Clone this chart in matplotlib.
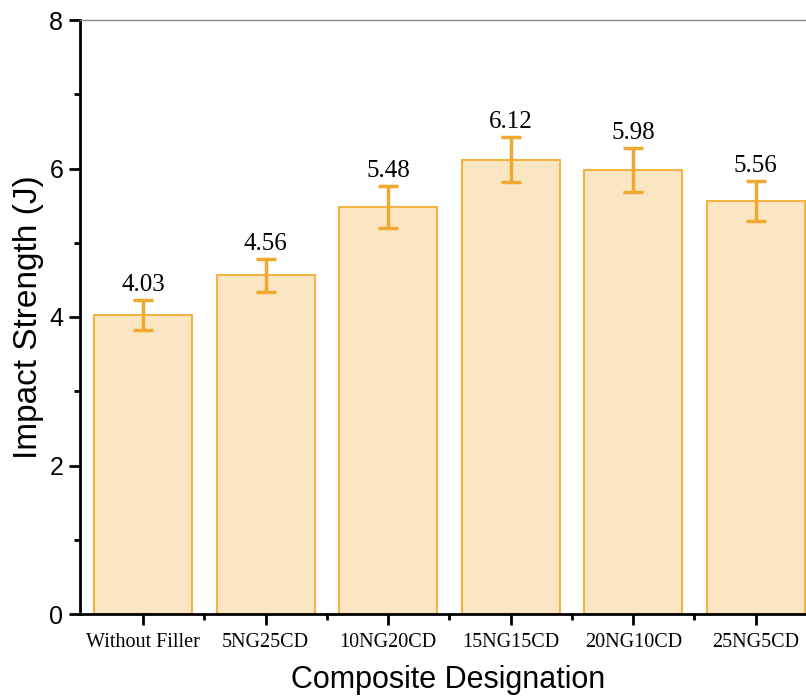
import numpy as np
import matplotlib.pyplot as plt
from matplotlib.ticker import MultipleLocator, FixedLocator

# Impact strength of the composites
designations = ["Without Filler", "5NG25CD", "10NG20CD", "15NG15CD", "20NG10CD", "25NG5CD"]
strength = [4.03, 4.56, 5.48, 6.12, 5.98, 5.56]
strength_err = [0.20, 0.22, 0.28, 0.30, 0.30, 0.27]

bar_fill = "#FBE6C3"
bar_edge = "#F2B443"
err_color = "#EFA830"

fig = plt.figure(figsize=(8.06, 6.98), dpi=100)
ax = fig.add_axes([80 / 806, 84 / 698, 737 / 806, 594 / 698])

x = np.arange(len(designations))
ax.bar(x, strength, width=0.8, color=bar_fill, edgecolor=bar_edge, linewidth=1.5, zorder=2)
ax.errorbar(x, strength, yerr=strength_err, fmt="none", ecolor=err_color,
            elinewidth=2.5, capsize=7, capthick=2.5, zorder=3)

for xi, v, e in zip(x, strength, strength_err):
    ax.annotate(f"{v:.2f}", (xi, v + e), xytext=(0, 3), textcoords="offset points",
                ha="center", va="bottom", fontsize=18, family="Liberation Serif")

ax.set_xlim(-0.515, 5.5)
ax.set_ylim(0, 8)
ax.set_xticks(x)
ax.set_xticklabels(designations, family="Liberation Serif", fontsize=14.5)
ax.xaxis.set_minor_locator(FixedLocator(np.arange(0.5, 5.0, 1.0)))
ax.yaxis.set_major_locator(MultipleLocator(2))
ax.yaxis.set_minor_locator(MultipleLocator(1))
for lab in ax.get_yticklabels():
    lab.set_family("Liberation Sans")
    lab.set_fontsize(18)

ax.tick_params(axis="both", which="major", direction="out", length=8, width=2)
ax.tick_params(axis="y", which="major", pad=4)
ax.tick_params(axis="x", which="major", pad=6)
ax.tick_params(axis="both", which="minor", direction="out", length=4, width=2)

ax.spines["left"].set_linewidth(2)
ax.spines["bottom"].set_linewidth(2)
ax.spines["top"].set_color("#888888")
ax.spines["top"].set_linewidth(1)
ax.spines["right"].set_visible(False)

ax.set_xlabel("Composite Designation", family="Liberation Sans", fontsize=22, labelpad=9)
ax.set_ylabel("Impact Strength (J)", family="Liberation Sans", fontsize=24, labelpad=4)

fig.savefig("out.png", dpi=100)
